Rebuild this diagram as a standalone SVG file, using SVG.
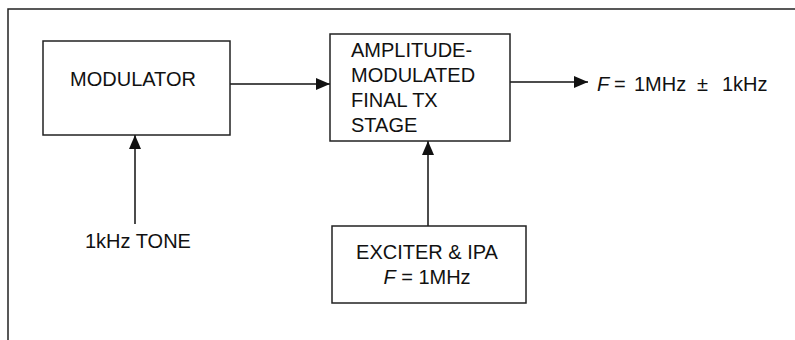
<svg xmlns="http://www.w3.org/2000/svg" width="795" height="340" viewBox="0 0 795 340">
<style>
.box{fill:#fff;stroke:#222;stroke-width:1.5}
.frame{fill:none;stroke:#222;stroke-width:1.5}
.wire{fill:none;stroke:#111;stroke-width:1.5}
text{font-family:"Liberation Sans",Arial,sans-serif;font-size:20px;fill:#111}
.it{font-style:italic}
</style>
<defs>
<marker id="ah" viewBox="0 0 14 12" refX="14" refY="6" markerWidth="14" markerHeight="12" markerUnits="userSpaceOnUse" orient="auto">
<path d="M0,0 L14,6 L0,12 Z" fill="#111"/>
</marker>
</defs>
<rect class="frame" x="8" y="9" width="800" height="340"/>
<g id="connectors">
<path class="wire" d="M230,84 H330" marker-end="url(#ah)"/>
<path class="wire" d="M510,82 H588" marker-end="url(#ah)"/>
<path class="wire" d="M135,224 V135" marker-end="url(#ah)"/>
<path class="wire" d="M428,226 V141" marker-end="url(#ah)"/>
</g>
<g id="modulator">
<rect class="box" x="43" y="41" width="187" height="94"/>
<text x="133" y="86" text-anchor="middle">MODULATOR</text>
</g>
<g id="final-stage">
<rect class="box" x="330" y="34" width="180" height="107"/>
<text x="351" y="57">AMPLITUDE-</text>
<text x="351" y="82">MODULATED</text>
<text x="351" y="107">FINAL TX</text>
<text x="351" y="132">STAGE</text>
</g>
<g id="exciter">
<rect class="box" x="332" y="226" width="194" height="77"/>
<text x="427" y="259" text-anchor="middle">EXCITER &amp; IPA</text>
<text x="427" y="284" text-anchor="middle"><tspan class="it">F</tspan> = 1MHz</text>
</g>
<g id="tone">
<text x="85" y="248">1kHz TONE</text>
</g>
<g id="output">
<text y="91"><tspan class="it" x="597">F</tspan><tspan x="614">=</tspan><tspan x="634">1MHz</tspan><tspan x="697">±</tspan><tspan x="722">1kHz</tspan></text>
</g>
</svg>
